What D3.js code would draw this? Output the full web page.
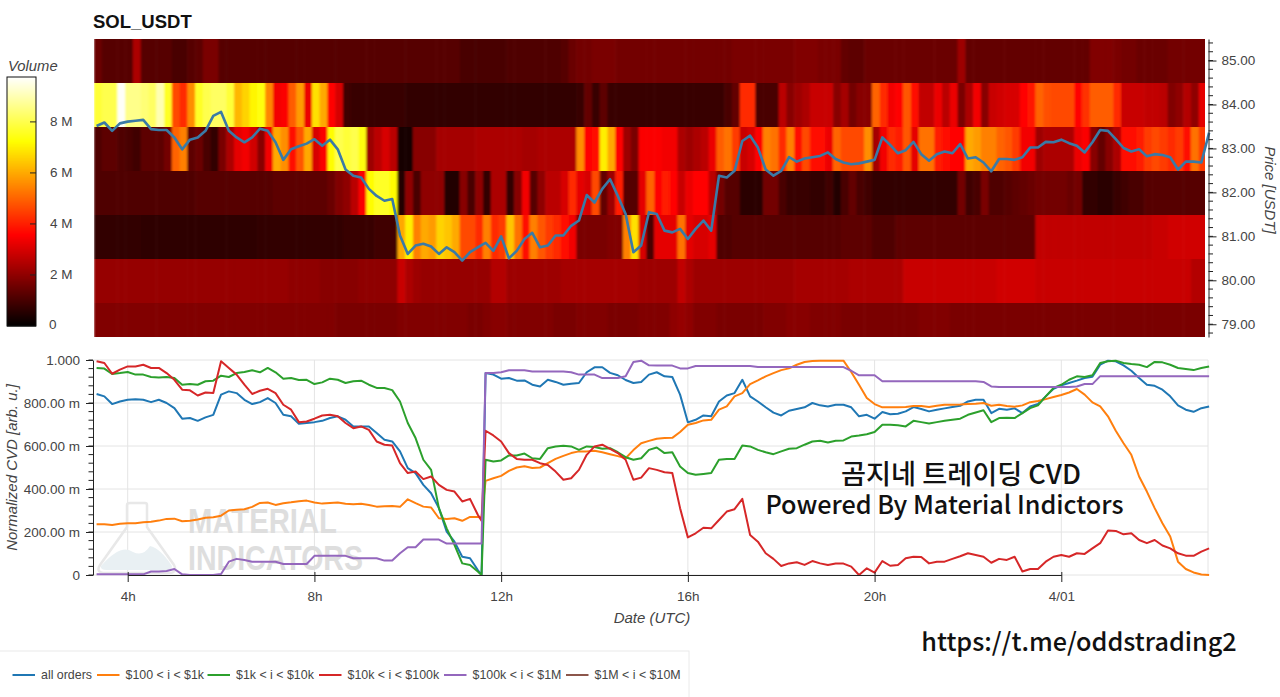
<!DOCTYPE html>
<html><head><meta charset="utf-8">
<script src="https://cdnjs.cloudflare.com/ajax/libs/d3/7.8.5/d3.min.js"></script>
<style>html,body{margin:0;padding:0;background:#fff;overflow:hidden}svg{display:block;font-family:"Liberation Sans",Helvetica,Arial,sans-serif}</style></head><body>
<svg id="c" width="1280" height="697"></svg>
<script>
// ---- heat map: traded volume (millions) per price row, one value per 10-minute column
const heatPrices=[85,84,83,82,81,80,79];
const vol85=[1.5,1.2,1.2,1.2,1.2,2.4,1.2,1.2,1.2,1.2, 1.0,1.0,1.2,1.3,1.7,1.7,1.2,1.2,1.2,1.2,
 1.2,1.2,1.2,1.2,1.2,1.2,1.2,1.2,1.2,1.2, 1.2,1.2,1.2,1.2,1.2,1.2,1.2,1.2,1.2,1.2,
 1.2,1.2,1.2,1.2,1.2,1.2,1.2,1.0,1.0,1.0, 1.0,1.0,1.0,1.1,1.1,1.1,1.1,1.1,1.1,1.1,
 1.2,1.5,1.6,1.6,1.7,1.7,1.7,1.6,1.6,1.6, 1.6,1.6,1.6,1.6,1.6,1.6,1.6,1.6,1.6,1.6,
 1.6,1.6,1.7,1.7,1.7,1.7,1.7,1.7,1.7,1.7, 1.8,1.8,1.8,1.7,1.7,1.7,1.4,1.3,1.3,1.5,
 1.5,1.5,1.5,1.5,1.5,1.5,1.5,1.5,1.5,1.5, 1.5,2.2,1.4,1.4,1.4,1.4,1.4,1.4,1.4,1.4,
 1.4,1.4,1.4,1.4,1.4,1.4,1.4,1.4,1.8,1.8, 1.8,1.7,1.6,1.6,1.5,1.5,1.5,1.5,1.6,1.6,1.6,1.6,1.6];
const vol84=[7.8,8.0,8.0,9.7,8.6,8.6,8.4,8.2,9.0,7.6, 4.6,4.2,5.6,7.6,8.0,8.2,8.2,7.8,6.2,6.6,
 7.1,7.4,5.5,3.4,3.5,4.9,5.8,3.3,6.8,6.0, 3.6,3.0,0.9,0.8,0.8,0.8,0.8,0.8,0.8,0.8,
 0.7,0.7,0.7,0.7,0.7,0.7,0.7,0.7,0.7,0.7, 0.7,0.7,0.7,0.7,0.7,0.7,0.7,0.7,0.7,0.7,
 0.7,0.7,0.8,1.4,0.8,1.3,0.8,0.8,0.8,0.8, 0.8,0.8,0.8,0.8,0.8,0.8,0.8,0.8,0.8,0.8,
 0.8,1.0,1.4,4.2,4.2,1.0,1.0,1.0,2.6,1.9, 2.2,2.4,2.8,2.8,2.8,1.9,2.3,1.6,1.9,1.9,
 5.0,4.2,3.4,3.6,4.8,3.8,2.7,2.7,3.3,2.6, 3.3,1.7,2.4,3.4,1.9,2.8,2.9,3.0,3.0,3.6,
 3.9,5.0,4.7,4.6,4.6,4.6,3.6,4.3,4.9,4.9, 4.9,4.2,2.8,2.8,2.8,2.7,2.7,2.6,1.8,2.0,2.5,2.0,3.2];
const vol83=[1.1,1.3,1.3,1.1,1.0,0.9,1.3,1.3,1.3,1.6, 5.0,5.4,1.3,1.5,1.0,0.7,1.7,2.4,3.2,3.4,
 2.9,1.9,3.4,6.0,5.6,3.8,4.8,6.0,3.0,3.5, 7.2,8.0,7.8,8.0,7.4,2.2,2.6,3.0,2.6,0.3,
 0.3,1.9,1.9,1.9,2.3,2.3,2.3,2.3,2.3,2.4, 2.4,2.4,2.4,2.4,2.4,2.3,2.3,2.4,2.4,2.4,
 2.4,2.4,5.6,3.6,3.8,7.0,6.0,3.6,2.2,1.7, 3.5,3.5,3.5,3.4,3.4,2.4,2.2,2.4,2.6,3.3,
 4.9,5.2,4.4,2.8,3.0,3.6,5.4,5.2,4.2,5.4, 3.7,4.6,3.7,3.7,3.3,5.0,4.6,4.6,4.6,5.6,
 2.3,3.4,4.2,4.0,4.8,3.2,5.2,5.2,4.0,3.8, 3.6,3.6,6.0,5.8,5.4,5.4,5.0,4.8,4.4,3.4,
 3.4,2.2,2.4,2.4,2.4,2.4,3.3,3.5,1.9,1.4, 1.9,2.4,3.8,3.8,4.0,4.4,4.6,4.4,4.2,4.4,3.7,5.2,4.4];
const vol82=[1.1,1.1,1.1,1.1,1.1,1.1,1.1,1.1,1.1,1.1, 1.1,1.1,1.1,1.2,1.2,1.2,1.2,1.2,1.2,1.2,
 1.2,1.2,1.2,1.3,1.3,1.3,1.3,1.3,1.3,1.3, 1.5,1.8,2.0,2.6,3.5,7.2,7.6,7.6,7.2,0.5,
 2.0,1.0,2.0,2.0,2.0,0.5,0.5,1.9,1.0,2.0, 0.7,2.4,2.4,0.7,1.9,3.4,1.2,2.0,2.6,2.6,
 3.0,4.2,3.2,3.0,4.6,1.4,2.2,4.0,1.2,1.2, 3.2,5.0,3.6,4.0,3.6,2.8,3.3,3.6,3.6,2.6,
 1.6,1.2,1.2,0.6,0.6,0.6,1.6,1.6,1.0,0.8, 0.8,0.8,0.7,0.7,0.9,0.5,1.0,1.4,1.0,0.9,
 0.7,0.7,0.7,0.7,0.7,0.7,0.7,0.7,0.7,0.7, 0.7,1.6,0.9,1.0,1.7,1.1,1.1,1.2,1.3,1.4,
 1.5,1.6,1.6,1.6,1.6,1.5,1.6,0.7,0.7,0.6, 0.6,0.8,0.9,1.0,1.0,1.2,1.2,1.2,1.2,1.2,1.2,1.2,1.2];
const vol81=[0.7,0.7,0.7,0.7,0.7,0.7,0.65,0.65,0.65,0.65, 0.65,0.65,0.65,0.65,0.65,0.65,0.65,0.65,0.65,0.65,
 0.65,0.7,0.7,0.7,0.7,0.7,0.7,0.7,0.7,0.7, 0.7,0.7,0.8,0.8,0.8,0.8,0.9,0.9,0.9,6.0,
 7.0,5.4,6.0,5.8,6.6,6.4,6.0,4.6,4.6,4.2, 5.4,4.2,4.4,6.4,5.2,3.8,5.4,4.8,4.4,4.2,
 3.8,3.4,1.7,1.7,1.7,1.7,1.8,1.8,5.4,6.8, 3.0,1.0,3.2,3.2,3.2,5.2,3.2,3.0,3.0,3.2,
 1.1,1.1,1.2,1.2,1.2,1.2,1.2,1.2,1.2,1.2, 1.2,1.2,1.2,1.2,1.2,1.2,1.3,1.3,1.3,1.3,
 1.1,1.1,1.1,1.3,1.3,1.3,1.3,1.3,1.3,1.3, 1.3,1.3,1.3,1.3,1.3,1.3,1.3,1.3,1.3,1.3,
 1.3,2.7,2.7,2.7,2.7,2.7,2.7,2.7,2.7,2.7, 2.7,2.7,2.7,2.7,2.7,2.7,2.8,2.8,2.9,2.9,2.9,2.9,2.9];
const vol80=[2.1,2.1,2.1,2.1,2.1,2.1,2.1,2.1,2.1,2.1, 2.1,2.1,2.1,2.1,2.1,2.1,2.1,2.1,2.1,2.1,
 2.1,2.1,2.1,2.1,2.1,2.0,2.0,2.0,2.0,1.9, 1.9,1.9,1.9,1.9,2.0,2.0,2.0,2.0,2.0,2.8,
 2.4,2.2,2.1,2.1,2.1,2.1,2.1,2.1,2.1,2.1, 2.1,2.5,2.5,2.2,2.2,2.2,2.2,2.2,2.2,2.2,
 2.3,2.3,2.3,2.3,2.3,2.3,2.3,2.3,2.3,2.3, 2.2,2.2,2.2,2.2,2.2,2.7,2.4,2.2,2.2,2.2,
 2.2,2.2,2.2,2.2,2.2,2.2,2.2,2.2,2.2,2.2, 2.3,2.3,2.3,2.3,2.3,2.3,2.3,2.4,2.4,2.4,
 2.4,2.4,2.4,2.4,2.8,2.8,2.8,2.8,2.8,2.8, 2.8,2.8,2.8,2.8,2.8,2.8,2.9,2.9,2.9,2.9,
 2.9,2.8,2.8,2.8,2.8,2.8,2.8,2.8,2.8,2.8, 2.8,2.8,2.8,2.8,2.8,2.8,2.8,2.8,2.8,2.8,2.8,2.5,2.5];
const vol79=[1.8,1.8,1.8,1.8,1.8,1.8,1.8,1.8,1.8,1.8, 1.8,1.8,1.8,1.8,1.8,1.8,1.8,1.8,1.8,1.8,
 1.8,1.8,1.8,1.8,1.8,1.8,1.8,1.8,1.8,1.8, 1.8,1.7,1.7,1.7,1.7,1.7,1.7,1.7,1.7,1.8,
 1.8,1.8,1.8,1.8,1.8,1.8,1.8,1.8,1.7,1.7, 1.8,1.9,1.9,1.8,1.8,1.8,1.8,1.8,1.8,1.7,
 1.7,1.7,1.8,1.8,1.8,1.8,1.7,1.7,1.7,1.7, 1.8,1.8,1.8,1.8,2.0,2.1,2.0,1.8,1.8,1.8,
 1.7,1.7,1.7,1.7,1.7,1.7,1.8,1.8,1.8,1.9, 1.9,1.9,1.8,1.8,1.8,1.8,1.7,1.7,1.7,1.7,
 1.7,1.7,1.7,1.7,1.7,1.7,1.8,1.8,1.8,1.8, 1.7,1.7,1.7,1.7,1.7,1.7,1.7,1.7,1.7,1.7,
 1.7,1.7,1.7,1.7,1.7,1.7,1.7,1.7,1.7,1.7, 1.7,1.7,1.7,1.7,1.7,1.7,1.7,1.7,1.7,1.7,1.7,1.7,1.7];
const heatRows=[vol85,vol84,vol83,vol82,vol81,vol80,vol79];

// ---- line samples: 10-minute grid from 03:20, plus one extra sample at 11:35 (index 50)
const sampleHours=d3.range(144).map(i=>10/3+i/6); sampleHours.splice(50,0,11.58);
const price=[83.51,83.59,83.40,83.57,83.61,83.63,83.65,83.44,83.42,83.42, 83.25,82.98,83.20,83.25,83.40,83.74,83.83,83.40,83.25,83.14,
 83.25,83.45,83.40,83.14,82.74,82.98,83.05,83.11,83.21,83.06, 83.20,82.98,82.52,82.38,82.34,82.08,81.92,81.81,81.85,81.02,
 80.60,80.79,80.83,80.77,80.60,80.75,80.64,80.45,80.64,80.75, 80.80,
 80.85,80.67,81.00,80.50,80.67,80.94,81.08,80.75,80.79,81.02, 81.02,81.24,81.36,81.94,81.77,82.08,82.30,81.92,81.51,80.64,
 80.79,81.55,81.51,81.13,81.09,81.17,80.94,81.17,81.36,81.13, 82.38,82.34,82.49,83.17,83.29,83.02,82.52,82.38,82.49,82.80,
 82.70,82.77,82.80,82.83,82.91,82.76,82.68,82.64,82.66,82.70, 82.74,83.25,83.08,82.89,82.96,83.15,82.87,82.72,82.87,82.93,
 82.89,83.10,82.77,82.80,82.68,82.48,82.76,82.76,82.74,82.80, 83.02,83.02,83.15,83.14,83.20,83.12,83.06,82.91,83.14,83.42,
 83.40,83.21,83.01,82.93,82.98,82.82,82.87,82.85,82.80,82.52, 82.70,82.70,82.68,83.36];
const cvdAll=[842,831,795,807,815,818,815,804,815,800, 776,727,730,717,733,745,839,854,846,815,
 795,804,823,800,745,738,703,707,711,717, 730,738,722,691,691,691,660,629,621,575,
 497,474,419,380,311,202,155,85,78,23, 0,
 940,932,913,916,904,905,885,877,908,898, 885,890,893,943,966,966,940,929,907,893,
 898,932,943,924,921,839,710,722,742,738, 807,835,846,908,831,807,780,755,742,764,
 772,780,800,789,784,792,792,780,738,745, 727,758,748,750,761,781,772,761,769,775,
 781,787,807,815,815,753,773,769,775,753, 784,795,831,866,882,893,904,916,922,978,
 997,994,975,950,916,885,880,862,831,789, 769,759,776,784];
const cvd100=[236,236,233,238,241,241,245,248,253,261, 262,250,252,258,266,269,276,300,304,306,
 317,335,337,326,334,338,343,346,337,332, 335,337,331,329,331,326,318,320,321,317,
 352,334,318,314,264,261,264,252,270,270, 267,
 438,450,461,484,500,506,498,500,520,540, 554,567,575,575,578,571,562,553,543,581,
 613,624,634,637,638,665,699,707,719,722, 769,784,831,846,888,905,924,939,953,961,
 978,991,995,997,997,997,997,944,885,823, 795,780,780,780,781,786,786,781,787,792,
 792,793,795,797,800,787,792,786,783,789, 804,809,818,828,837,849,865,839,803,784,
 738,671,613,559,458,388,311,241,179,62, 28,12,2,0];
const cvd1k=[963,960,935,939,944,932,932,921,919,921, 916,885,888,885,901,904,927,921,939,944,
 952,943,963,943,913,916,907,908,888,896, 913,908,893,901,904,885,870,870,860,807,
 707,637,536,489,311,217,140,54,47,16, 0,
 536,528,533,556,556,565,543,540,590,598, 601,598,582,598,595,587,590,571,548,536,
 543,582,593,567,571,505,474,466,470,474, 536,540,540,602,598,582,571,562,575,587,
 590,606,621,624,616,624,626,644,649,655, 665,699,699,696,691,717,711,705,711,717,
 722,727,745,756,766,711,730,731,730,753, 776,789,831,870,885,908,924,921,929,986,
 994,997,986,981,978,967,991,989,978,963, 958,953,963,970];
const cvd10k=[994,986,936,955,970,970,978,963,963,939, 908,862,859,835,849,846,994,963,932,885,
 842,857,866,846,792,769,711,714,727,742, 745,738,707,683,691,675,621,606,602,520,
 474,481,446,458,419,396,388,342,354,280, 252,
 671,649,621,567,540,536,536,520,512,481, 443,450,489,559,598,606,587,567,536,443,
 453,497,489,478,474,311,175,194,220,217, 256,295,306,354,186,155,101,75,42,54,
 59,47,65,54,47,53,53,39,0,31, 11,65,43,47,78,85,84,54,62,62,
 75,87,101,93,85,57,75,70,85,16, 28,28,62,85,93,85,101,98,124,148,
 207,205,189,194,163,148,163,137,124,101, 90,89,109,124];
const cvd100k=[3,3,3,3,3,3,3,16,16,19, 28,3,0,0,0,0,5,62,75,70,
 62,62,62,62,51,51,51,51,89,89, 89,89,89,78,78,78,78,67,67,101,
 129,129,165,165,165,146,146,146,146,146, 146,
 940,940,943,952,952,952,947,947,947,947, 947,943,932,932,932,916,916,916,924,991,
 997,975,974,974,974,961,961,972,972,972, 972,972,972,972,972,967,967,967,967,967,
 967,967,967,967,967,967,967,950,929,929, 929,901,901,901,901,901,901,901,901,901,
 901,901,901,901,898,877,874,874,874,874, 874,874,874,874,874,874,877,888,888,925,
 925,925,925,925,925,925,925,925,925,925, 925,925,925,925];
const cvd1M=[];   // listed in the legend, no line visible in the picture
const seriesNames=["all orders","$100 < i < $1k","$1k < i < $10k","$10k < i < $100k","$100k < i < $1M","$1M < i < $10M"];
const seriesValues=[cvdAll,cvd100,cvd1k,cvd10k,cvd100k,cvd1M];
const seriesColors=["#1f77b4","#ff7f0e","#2ca02c","#d62728","#9467bd","#8c564b"];
const hourTicks=[4,8,12,16,20,24];
const hourLabels=["4h","8h","12h","16h","20h","4/01"];
const priceTicks=[79,80,81,82,83,84,85];
const cvdTicks=[0,200,400,600,800,1000];
const cvdLabels=["0","200.00 m","400.00 m","600.00 m","800.00 m","1.000"];
const volTicks=[0,2,4,6,8];

const svg=d3.select("#c");
const INK="#444";
const x=d3.scaleLinear().domain([4,24]).range([127.7,1061.3]);
const yP=d3.scaleLinear().domain([78.71,85.49]).range([337,39]);
const yC=d3.scaleLinear().domain([0,1000]).range([575,360]);
const volMax=9.76;
const color=d3.scaleLinear().domain([0,.365,.741,1].map(d=>d*volMax))
  .range(["#000000","#ff0000","#ffff00","#ffffff"]).clamp(true);

// title
svg.append("text").attr("x",93).attr("y",28).attr("font-size",18.5).attr("font-weight",700).attr("fill","#111").text("SOL_USDT");

// heat map
const defs=svg.append("defs");
defs.append("clipPath").attr("id","hc").append("rect").attr("x",94).attr("y",39).attr("width",1111).attr("height",298);
const soft=defs.append("filter").attr("id","soft").attr("x",-.01).attr("y",-.05).attr("width",1.02).attr("height",1.1);
soft.append("feGaussianBlur").attr("stdDeviation","0.9 0.35");
const heat=svg.append("g").attr("clip-path","url(#hc)").append("g").attr("filter","url(#soft)");
const colW=x(1/6)-x(0), heatStart=x(10/3)-2.6;
heatRows.forEach((row,r)=>{
  const top=Math.ceil(yP(heatPrices[r]+.5)), bottom=Math.ceil(yP(heatPrices[r]-.5));
  heat.append("g").selectAll("rect").data(row).join("rect")
   .attr("x",(d,i)=>heatStart+i*colW).attr("width",colW+.6)
   .attr("y",top).attr("height",bottom-top+.5)
   .attr("fill",d=>color(d));
});
const lineFn=sc=>d3.line().x((d,i)=>x(sampleHours[i])).y(d=>sc(d));
svg.append("path").attr("d",lineFn(yP)(price)).attr("fill","none").attr("stroke","#3a7aa6").attr("stroke-width",2.6).attr("stroke-linejoin","round");

// price axis
const pAxis=d3.axisRight(yP).tickValues(priceTicks).tickFormat(d3.format(".2f")).tickSizeInner(8).tickSizeOuter(0).tickPadding(5);
const gP=svg.append("g").attr("transform","translate(1208.5,0)").call(pAxis);
gP.selectAll("text").attr("font-size",13.5).attr("fill",INK).attr("font-family",'"Liberation Sans",sans-serif');
gP.selectAll("line").attr("stroke","#222");
gP.select(".domain").attr("stroke","#222");
gP.append("g").selectAll("line").data(d3.range(78.8,85.45,.2)).join("line")
  .attr("x1",0).attr("x2",4.5).attr("y1",d=>yP(d)).attr("y2",d=>yP(d)).attr("stroke","#222");
svg.append("text").attr("transform","translate(1265,190) rotate(90)").attr("text-anchor","middle")
  .attr("font-size",15).attr("font-style","italic").attr("fill",INK).text("Price [USDT]");

// colour bar
svg.append("text").attr("x",8).attr("y",71).attr("font-size",14.8).attr("font-style","italic").attr("fill",INK).text("Volume");
const yV=d3.scaleLinear().domain([0,volMax]).range([326,77]);
svg.append("g").selectAll("rect").data(d3.range(0,volMax,volMax/249)).join("rect")
  .attr("x",7).attr("width",29).attr("y",d=>yV(d)-1).attr("height",1.5).attr("fill",d=>color(d));
svg.append("rect").attr("x",7).attr("y",77).attr("width",29).attr("height",249).attr("fill","none").attr("stroke","#111").attr("stroke-width",1);
const vg=svg.append("g").selectAll("g").data(volTicks).join("g");
vg.filter(d=>d>0).append("line").attr("x1",30).attr("x2",36).attr("y1",d=>yV(d)).attr("y2",d=>yV(d)).attr("stroke","#222");
vg.append("text").attr("x",d=>d?50:49).attr("y",d=>yV(d)+4-(d?0:1)).attr("font-size",13.5).attr("fill",INK).text(d=>d?d+" M":"0");

// CVD panel: grid
const grid=svg.append("g").attr("stroke","#e4e4e4").attr("stroke-width",1);
grid.selectAll("line.h").data(cvdTicks).join("line").attr("class","h").attr("x1",93).attr("x2",1208).attr("y1",d=>yC(d)).attr("y2",d=>yC(d));
grid.selectAll("line.v").data(hourTicks).join("line").attr("class","v").attr("x1",d=>x(d)).attr("x2",d=>x(d)).attr("y1",360).attr("y2",575);
grid.append("line").attr("x1",1208).attr("x2",1208).attr("y1",360).attr("y2",575);

// watermark
const wm=svg.append("g");
wm.append("path").attr("d","M101 566 Q121 543 133 552 Q143 557 150 546 Q160 548 172 566 Q172 570 166 570 L107 570 Q100 570 101 566 Z").attr("fill","#e9f0f3");
wm.append("path").attr("d","M127 505 Q127 503 130 503 L145 503 Q147 503 147 505 L147 527 L174 565 Q178 573 168 573 L106 573 Q95 573 100 565 L127 527 Z")
  .attr("fill","none").attr("stroke","#e8e8e8").attr("stroke-width",2.5);
wm.append("text").attr("x",188).attr("y",533).attr("font-size",35).attr("font-weight",700).attr("textLength",149).attr("lengthAdjust","spacingAndGlyphs").attr("fill","#dedede").text("MATERIAL");
wm.append("text").attr("x",188).attr("y",570).attr("font-size",35).attr("font-weight",700).attr("textLength",175).attr("lengthAdjust","spacingAndGlyphs").attr("fill","#dedede").text("INDICATORS");

// CVD lines
seriesValues.forEach((v,k)=>{ if(!v.length) return;
  svg.append("path").attr("d",lineFn(yC)(v)).attr("fill","none").attr("stroke",seriesColors[k]).attr("stroke-width",2).attr("stroke-linejoin","round");
});

// CVD axes
const yAxis=d3.axisLeft(yC).tickValues(cvdTicks).tickFormat((d,i)=>cvdLabels[i]).tickSizeInner(7).tickSizeOuter(0).tickPadding(6);
const gY=svg.append("g").attr("transform","translate(93,0)").call(yAxis);
gY.selectAll("text").attr("font-size",13.5).attr("fill",INK).attr("font-family",'"Liberation Sans",sans-serif');
gY.selectAll("line").attr("stroke","#222"); gY.select(".domain").attr("stroke","#222");
gY.append("g").selectAll("line").data(d3.range(0,1001,40)).join("line")
  .attr("x1",-4.5).attr("x2",0).attr("y1",d=>yC(d)).attr("y2",d=>yC(d)).attr("stroke","#222");
const xAxis=d3.axisBottom(x).tickValues(hourTicks).tickFormat((d,i)=>hourLabels[i]).tickSizeInner(7).tickSizeOuter(0).tickPadding(9);
const gX=svg.append("g").attr("transform","translate(0,575)").call(xAxis);
gX.selectAll("text").attr("font-size",13.5).attr("fill",INK).attr("font-family",'"Liberation Sans",sans-serif');
gX.selectAll("line").attr("stroke","#222").attr("y1",-3); gX.select(".domain").attr("stroke","#222").attr("stroke-width",1.2);
svg.append("text").attr("transform","translate(17,467.5) rotate(-90)").attr("text-anchor","middle")
  .attr("font-size",15).attr("font-style","italic").attr("fill",INK).text("Normalized CVD [arb. u.]");
svg.append("text").attr("x",652).attr("y",623).attr("text-anchor","middle").attr("font-size",15).attr("font-style","italic").attr("fill",INK).text("Date (UTC)");

// annotations
const KR='"Noto Sans CJK KR","Noto Sans",sans-serif';
svg.append("text").attr("x",961).attr("y",484).attr("text-anchor","middle").attr("font-family",KR).attr("font-size",27.2).attr("font-weight",500).attr("fill","#111").text("곰지네 트레이딩 CVD");
svg.append("text").attr("x",944.5).attr("y",514).attr("text-anchor","middle").attr("font-family",KR).attr("font-size",25.2).attr("font-weight",500).attr("fill","#111").text("Powered By Material Indictors");
svg.append("text").attr("x",1079).attr("y",651).attr("text-anchor","middle").attr("font-family",KR).attr("font-size",25.2).attr("font-weight",500).attr("fill","#111").text("https://t.me/oddstrading2");

// legend
svg.append("rect").attr("x",-1).attr("y",651).attr("width",690).attr("height",50).attr("fill","#fff").attr("stroke","#eaeaea");
const legendX=[12.5,97,207.5,319,444,566];
const lg=svg.append("g").selectAll("g").data(seriesNames).join("g").attr("transform",(d,i)=>`translate(${legendX[i]},675)`);
lg.append("line").attr("x1",0).attr("x2",22.5).attr("stroke",(d,i)=>seriesColors[i]).attr("stroke-width",2);
lg.append("text").attr("x",28.5).attr("y",4).attr("font-size",12.4).attr("fill",INK).text(d=>d);
</script></body></html>
